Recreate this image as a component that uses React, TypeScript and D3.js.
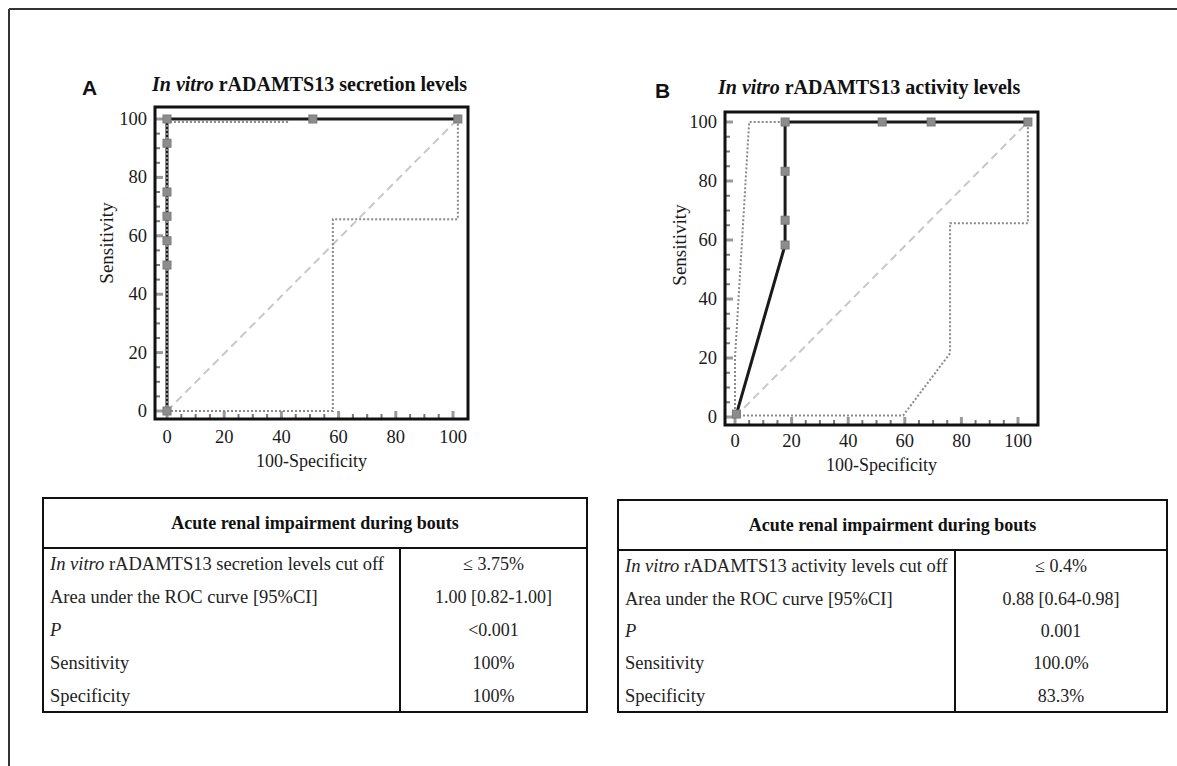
import React, { useEffect, useRef } from "react";
import * as d3 from "d3";

// axis ticks
const majorTicks = [0, 20, 40, 60, 80, 100];
const minorTicks = [5, 10, 15, 25, 30, 35, 45, 50, 55, 65, 70, 75, 85, 90, 95];

// panel A: secretion levels ROC (100-specificity, sensitivity)
const rocAFpr = [0, 0, 0, 0, 0, 0, 0, 51, 101.7];
const rocASens = [0, 50, 58.3, 66.7, 75, 91.7, 100, 100, 100];
const ciAUpperFpr = [0, 0, 43];
const ciAUpperSens = [0, 99, 99];
const ciALowerFpr = [0, 58, 58, 101.7, 101.7];
const ciALowerSens = [0, 0, 65.7, 65.7, 100];

// panel B: activity levels ROC
const rocBFpr = [0.5, 17.7, 17.7, 17.7, 17.7, 52, 69.3, 103.5];
const rocBSens = [1, 58.3, 66.7, 83.3, 100, 100, 100, 100];
const ciBUpperFpr = [0, 0, 5, 17.7];
const ciBUpperSens = [0, 20, 100, 100];
const ciBLowerFpr = [0, 59.4, 76, 76, 103.5, 103.5];
const ciBLowerSens = [0.5, 0.5, 21.6, 65.7, 65.7, 100];

// tables
const tableHeader = "Acute renal impairment during bouts";
const tableALabels = [
  ["In vitro", " rADAMTS13 secretion levels cut off"],
  ["", "Area under the ROC curve [95%CI]"],
  ["P", ""],
  ["", "Sensitivity"],
  ["", "Specificity"],
];
const tableAValues = ["≤ 3.75%", "1.00 [0.82-1.00]", "<0.001", "100%", "100%"];
const tableBLabels = [
  ["In vitro", " rADAMTS13 activity levels cut off"],
  ["", "Area under the ROC curve [95%CI]"],
  ["P", ""],
  ["", "Sensitivity"],
  ["", "Specificity"],
];
const tableBValues = ["≤ 0.4%", "0.88 [0.64-0.98]", "0.001", "100.0%", "83.3%"];

const serif = "'Liberation Serif', 'Times New Roman', serif";
const sans = "'Liberation Sans', Arial, sans-serif";

const zip = (xs: number[], ys: number[]) => xs.map((x, i) => [x, ys[i]] as [number, number]);

const App = () => {
  const svgRef = useRef<SVGSVGElement>(null);

  useEffect(() => {
    const svg = d3.select(svgRef.current);
    svg.selectAll("*").remove();

    // outer figure frame (top and left edges)
    svg.append("line").attr("x1", 9).attr("x2", 1177).attr("y1", 9).attr("y2", 9)
      .attr("stroke", "#333").attr("stroke-width", 2);
    svg.append("line").attr("x1", 9).attr("x2", 9).attr("y1", 9).attr("y2", 766)
      .attr("stroke", "#333").attr("stroke-width", 2);

    const panels = [
      {
        letter: "A", letterX: 82, letterY: 95,
        titleRest: " rADAMTS13 secretion levels", titleX: 152, titleY: 91,
        frame: { l: 155, t: 107, r: 468, b: 419 },
        xRange: [167, 453], yRange: [411, 119],
        roc: zip(rocAFpr, rocASens),
        ciUp: zip(ciAUpperFpr, ciAUpperSens),
        ciLo: zip(ciALowerFpr, ciALowerSens),
        yLabelX: 107, yLabelY: 243, xTitleY: 467, tickY: 443,
      },
      {
        letter: "B", letterX: 655, letterY: 98,
        titleRest: " rADAMTS13 activity levels", titleX: 718, titleY: 94,
        frame: { l: 725, t: 112, r: 1038, b: 425 },
        xRange: [735, 1018], yRange: [417, 122],
        roc: zip(rocBFpr, rocBSens),
        ciUp: zip(ciBUpperFpr, ciBUpperSens),
        ciLo: zip(ciBLowerFpr, ciBLowerSens),
        yLabelX: 680, yLabelY: 245, xTitleY: 471, tickY: 447,
      },
    ];

    panels.forEach((p) => {
      const g = svg.append("g");
      const x = d3.scaleLinear().domain([0, 100]).range(p.xRange);
      const y = d3.scaleLinear().domain([0, 100]).range(p.yRange);
      const f = p.frame;

      g.append("text").attr("x", p.letterX).attr("y", p.letterY)
        .attr("font-family", sans).attr("font-weight", "bold").attr("font-size", 21)
        .attr("fill", "#111").text(p.letter);
      const title = g.append("text").attr("x", p.titleX).attr("y", p.titleY)
        .attr("font-family", serif).attr("font-weight", "bold").attr("font-size", 20)
        .attr("fill", "#111");
      title.append("tspan").attr("font-style", "italic").text("In vitro");
      title.append("tspan").text(p.titleRest);

      // ticks inside the frame
      majorTicks.forEach((t) => {
        g.append("line").attr("x1", f.l).attr("x2", f.l + 8).attr("y1", y(t)).attr("y2", y(t))
          .attr("stroke", "#999").attr("stroke-width", 3);
        g.append("line").attr("x1", x(t)).attr("x2", x(t)).attr("y1", f.b).attr("y2", f.b - 8)
          .attr("stroke", "#999").attr("stroke-width", 3);
      });
      minorTicks.forEach((t) => {
        g.append("line").attr("x1", f.l).attr("x2", f.l + 5).attr("y1", y(t)).attr("y2", y(t))
          .attr("stroke", "#777").attr("stroke-width", 2);
        g.append("line").attr("x1", x(t)).attr("x2", x(t)).attr("y1", f.b).attr("y2", f.b - 5)
          .attr("stroke", "#777").attr("stroke-width", 2);
      });

      const line = d3.line<[number, number]>().x((d) => x(d[0])).y((d) => y(d[1]));
      const last = p.roc[p.roc.length - 1];

      // chance diagonal
      g.append("path").attr("d", line([[0, 0], [last[0], 100]]))
        .attr("fill", "none").attr("stroke", "#c8c8c8").attr("stroke-width", 2)
        .attr("stroke-dasharray", "8,5");

      // ROC curve
      g.append("path").attr("d", line(p.roc))
        .attr("fill", "none").attr("stroke", "#1a1a1a").attr("stroke-width", 3);

      // confidence bounds
      [p.ciUp, p.ciLo].forEach((ci) => {
        g.append("path").attr("d", line(ci))
          .attr("fill", "none").attr("stroke", "#8a8a8a").attr("stroke-width", 2)
          .attr("stroke-dasharray", "2,2");
      });

      g.selectAll(".pt").data(p.roc).join("rect")
        .attr("x", (d) => x(d[0]) - 4).attr("y", (d) => y(d[1]) - 4)
        .attr("width", 8).attr("height", 8)
        .attr("fill", "#8c8c8c").attr("stroke", "#7a7a7a").attr("stroke-width", 1);

      // frame
      g.append("rect").attr("x", f.l).attr("y", f.t).attr("width", f.r - f.l).attr("height", f.b - f.t)
        .attr("fill", "none").attr("stroke", "#111").attr("stroke-width", 3);

      // tick labels
      majorTicks.forEach((t) => {
        g.append("text").attr("x", f.l - 8).attr("y", y(t) + 6)
          .attr("text-anchor", "end").attr("font-family", serif).attr("font-size", 18.5)
          .attr("fill", "#1a1a1a").text(t);
        g.append("text").attr("x", x(t)).attr("y", p.tickY)
          .attr("text-anchor", "middle").attr("font-family", serif).attr("font-size", 18.5)
          .attr("fill", "#1a1a1a").text(t);
      });

      g.append("text").attr("transform", `translate(${p.yLabelX + 6},${p.yLabelY}) rotate(-90)`)
        .attr("text-anchor", "middle").attr("font-family", serif).attr("font-size", 19)
        .attr("fill", "#1a1a1a").text("Sensitivity");
      g.append("text").attr("x", (f.l + f.r) / 2).attr("y", p.xTitleY)
        .attr("text-anchor", "middle").attr("font-family", serif).attr("font-size", 18)
        .attr("fill", "#1a1a1a").text("100-Specificity");
    });

    const tables = [
      { l: 43, r: 587, div: 400, t: 498, hb: 548, b: 712, labels: tableALabels, values: tableAValues },
      { l: 618, r: 1167, div: 955, t: 500, hb: 550, b: 712, labels: tableBLabels, values: tableBValues },
    ];

    tables.forEach((tb) => {
      const g = svg.append("g");
      const rows = d3.scaleBand<number>().domain(d3.range(tb.labels.length)).range([tb.hb, tb.b]);

      g.append("rect").attr("x", tb.l).attr("y", tb.t).attr("width", tb.r - tb.l).attr("height", tb.b - tb.t)
        .attr("fill", "none").attr("stroke", "#111").attr("stroke-width", 2);
      g.append("line").attr("x1", tb.l).attr("x2", tb.r).attr("y1", tb.hb).attr("y2", tb.hb)
        .attr("stroke", "#111").attr("stroke-width", 2);
      g.append("line").attr("x1", tb.div).attr("x2", tb.div).attr("y1", tb.hb).attr("y2", tb.b)
        .attr("stroke", "#111").attr("stroke-width", 2);

      g.append("text").attr("x", (tb.l + tb.r) / 2).attr("y", (tb.t + tb.hb) / 2 + 6)
        .attr("text-anchor", "middle").attr("font-family", serif).attr("font-weight", "bold")
        .attr("font-size", 18).attr("fill", "#111").text(tableHeader);

      tb.labels.forEach((lab, i) => {
        const cy = (rows(i) as number) + rows.bandwidth() / 2 + 6;
        const t = g.append("text").attr("x", tb.l + 7).attr("y", cy)
          .attr("font-family", serif).attr("font-size", 18.5).attr("fill", "#222")
          .style("white-space", "pre");
        if (lab[0]) t.append("tspan").attr("font-style", "italic").text(lab[0]);
        if (lab[1]) t.append("tspan").text(lab[1]);
        g.append("text").attr("x", (tb.div + tb.r) / 2).attr("y", cy)
          .attr("text-anchor", "middle").attr("font-family", serif).attr("font-size", 18)
          .attr("fill", "#222").text(tb.values[i]);
      });
    });
  }, []);

  return (
    <svg
      ref={svgRef}
      width={1177}
      height={766}
      style={{ position: "absolute", left: 0, top: 0, background: "#fff" }}
    />
  );
};

export default App;
